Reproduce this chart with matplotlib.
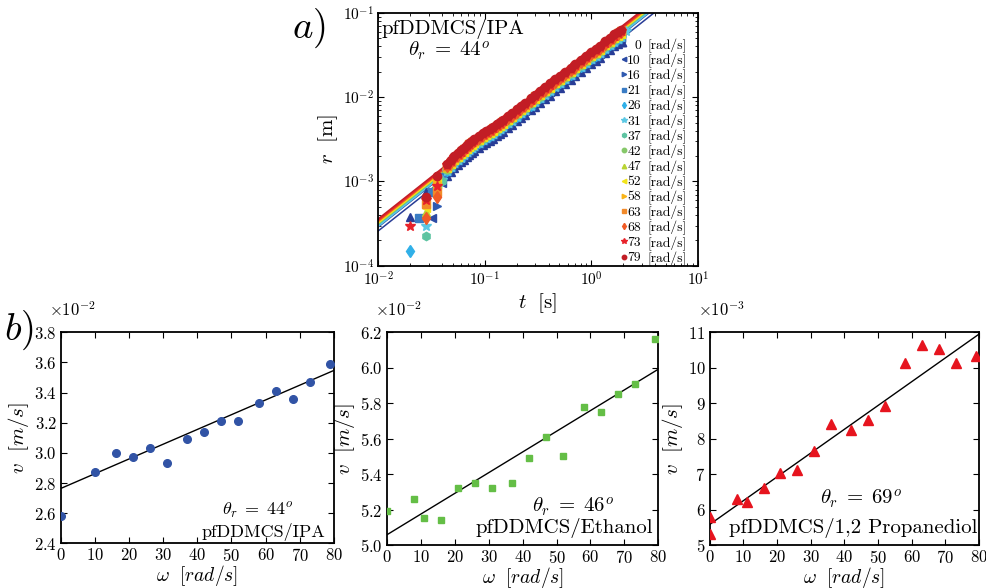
import numpy as np
import matplotlib
matplotlib.use("Agg")
import matplotlib.pyplot as plt
from matplotlib.ticker import ScalarFormatter, MultipleLocator, LogLocator, NullFormatter

plt.rcParams.update({
    "font.family": "serif",
    "font.serif": ["cmr10"],
    "mathtext.fontset": "cm",
    "axes.formatter.use_mathtext": True,
    "axes.unicode_minus": False,
    "xtick.direction": "in",
    "ytick.direction": "in",
    "xtick.top": True,
    "ytick.right": True,
    "axes.linewidth": 1.3,
    "xtick.major.size": 4,
    "ytick.major.size": 4,
    "xtick.minor.size": 2,
    "ytick.minor.size": 2,
})

# rotation speeds [rad/s] and spreading velocities of the IPA drop [m/s]
omega = [0, 10, 16, 21, 26, 31, 37, 42, 47, 52, 58, 63, 68, 73, 79]
v_ipa = [0.0258, 0.0287, 0.0300, 0.0297, 0.0303, 0.0293, 0.0309, 0.0314,
         0.0321, 0.0321, 0.0333, 0.0341, 0.0336, 0.0347, 0.0359]
fit_ipa = (0.02765, 9.76e-5)        # intercept [m/s], slope [m/rad]

omega_eth = [0, 8, 11, 16, 21, 26, 31, 37, 42, 47, 52, 58, 63, 68, 73, 79]
v_eth = [0.0519, 0.0526, 0.0515, 0.0514, 0.0532, 0.0535, 0.0532, 0.0535,
         0.0549, 0.0561, 0.0550, 0.0578, 0.0575, 0.0585, 0.0591, 0.0616]
fit_eth = (0.05058, 1.167e-4)

omega_prop = [0, 0, 8, 11, 16, 21, 26, 31, 36, 42, 47, 52, 58, 63, 68, 73, 79]
v_prop = [5.80e-3, 5.31e-3, 6.31e-3, 6.22e-3, 6.62e-3, 7.02e-3, 7.12e-3,
          7.64e-3, 8.42e-3, 8.23e-3, 8.52e-3, 8.93e-3, 10.14e-3, 10.64e-3,
          10.54e-3, 10.14e-3, 10.34e-3]
fit_prop = (5.58e-3, 6.71e-5)

# r(t) for IPA: frames along the main band, stored as r / (v t)
t_band = [0.044, 0.048, 0.052, 0.056, 0.060, 0.064, 0.068, 0.072, 0.076, 0.080,
          0.088, 0.096, 0.104, 0.112, 0.120, 0.130, 0.140, 0.150, 0.165, 0.180,
          0.200, 0.220, 0.240, 0.270, 0.300, 0.330, 0.370, 0.410, 0.460, 0.510,
          0.570, 0.640, 0.710, 0.800, 0.900, 1.00, 1.10, 1.20, 1.35, 1.50,
          1.65, 1.80, 1.90]
band_ratio = [1.02, 1.05, 1.08, 1.09, 1.09, 1.10, 1.12, 1.12, 1.12, 1.11,
              1.10, 1.09, 1.07, 1.05, 1.04, 1.03, 1.02, 1.01, 1.01, 1.00,
              1.00, 1.00, 1.00, 1.00, 1.00, 1.00, 0.99, 0.99, 0.99, 0.98,
              0.98, 0.97, 0.97, 0.97, 0.96, 0.96, 0.95, 0.95, 0.95, 0.94,
              0.94, 0.93, 0.93]

# first frames (and the odd late frame) that stay off the band
loose_t = [[0.020, 0.028, 0.036], [0.032, 0.040], [0.036], [0.024, 0.032, 0.040],
           [0.020, 0.036], [0.028, 0.040, 2.00, 2.13], [0.028, 0.040], [0.036],
           [0.028, 0.036], [0.028, 0.036], [0.036], [0.028, 0.036],
           [0.028, 0.036], [0.020, 0.028, 0.036], [0.028, 0.036]]
loose_r = [[3.75e-4, 7.6e-4, 1.02e-3], [3.7e-4, 9.6e-4], [5.1e-4],
           [3.7e-4, 7.5e-4, 1.12e-3], [1.48e-4, 9.5e-4],
           [2.95e-4, 1.05e-3, 5.8e-2, 6.16e-2], [2.25e-4, 1.02e-3], [8.5e-4],
           [4.4e-4, 9.6e-4], [4.83e-4, 1.03e-3], [9.8e-4], [5.4e-4, 7.6e-4],
           [3.7e-4, 6.6e-4], [2.95e-4, 6.06e-4, 8.96e-4], [6.5e-4, 1.16e-3]]

palette = ["#283c96", "#2b4ba4", "#2f5ab0", "#3a7cc4", "#30b0e8", "#5cc8e4",
           "#5ec4a2", "#86c86a", "#b9d434", "#f2e41a", "#f9b418", "#f28a2a",
           "#f05a26", "#e8222a", "#c21d25"]
markers = ["^", "<", ">", "s", "d", "*", "h", "o", "^", "<", ">", "s", "d", "*", "o"]

fig = plt.figure(figsize=(9.87, 5.88), dpi=100)

# ---- a) radius vs time, log-log
ax = fig.add_axes([0.383, 0.548, 0.324, 0.430])
t_line = np.array([1e-2, 1e1])
tb = np.array(t_band)
for i, w in enumerate(omega):
    r_band = v_ipa[i] * tb * np.array(band_ratio)
    t_all = np.concatenate([loose_t[i], tb])
    r_all = np.concatenate([loose_r[i], r_band])
    ms = 7.8 if markers[i] == "*" else 6.0
    ax.plot(t_all, r_all, ls="none", marker=markers[i], ms=ms, color=palette[i],
            mec=palette[i], zorder=3)
for i in range(len(omega)):
    ax.plot(t_line, v_ipa[i] * t_line, color=palette[i], lw=1.1, zorder=2)

ax.set_xscale("log")
ax.set_yscale("log")
ax.set_xlim(1e-2, 1e1)
ax.set_ylim(1e-4, 1e-1)
ax.xaxis.set_minor_locator(LogLocator(subs=np.arange(2, 10)))
ax.yaxis.set_minor_locator(LogLocator(subs=np.arange(2, 10)))
ax.xaxis.set_minor_formatter(NullFormatter())
ax.yaxis.set_minor_formatter(NullFormatter())
ax.tick_params(which="both", labelsize=11, pad=3)
ax.set_xlabel(r"$t\ \ [\mathrm{s}]$", fontsize=15, labelpad=2)
ax.set_ylabel(r"$r\ \ [\mathrm{m}]$", fontsize=15, labelpad=2)
ax.text(0.01, 0.917, "pfDDMCS/IPA", transform=ax.transAxes, fontsize=15,
        va="baseline")
ax.text(0.094, 0.825, r"$\theta_r\;=\;44^o$", transform=ax.transAxes, fontsize=15,
        va="baseline")

# legend rows: marker, right-aligned speed, unit
rows = np.linspace(0.877, 0.036, len(omega))
for i, w in enumerate(omega):
    ax.plot([0.769], [rows[i]], transform=ax.transAxes, ls="none", marker=markers[i],
            ms=4.2 if markers[i] == "*" else 3.2, color=palette[i], clip_on=False,
            zorder=4)
    ax.text(0.822, rows[i], "%d" % w, transform=ax.transAxes, fontsize=9.8,
            ha="right", va="center_baseline")
    ax.text(0.843, rows[i], "[rad/s]", transform=ax.transAxes, fontsize=9.8,
            ha="left", va="center_baseline")
fig.text(0.296, 0.952, r"$a)$", fontsize=28, va="center")


# ---- b) front velocity vs rotation speed
def velocity_panel(rect, w, v, fit, color, marker, ms, ylim, ystep, order,
                   theta, liquid, theta_pos, name_pos, fs):
    axb = fig.add_axes(rect)
    axb.plot(w, v, ls="none", marker=marker, ms=ms, color=color, zorder=3)
    wf = np.array([0, 80])
    axb.plot(wf, fit[0] + fit[1] * wf, color="k", lw=1.0, zorder=2)
    axb.set_xlim(0, 80)
    axb.set_ylim(*ylim)
    axb.xaxis.set_major_locator(MultipleLocator(10))
    axb.yaxis.set_major_locator(MultipleLocator(ystep))
    fmt = ScalarFormatter(useMathText=True, useOffset=False)
    fmt.set_powerlimits((order, order))
    axb.yaxis.set_major_formatter(fmt)
    axb.yaxis.get_offset_text().set_visible(False)
    axb.text(-0.045, 1.075, r"$\times10^{%d}$" % order, transform=axb.transAxes,
             fontsize=12, va="baseline")
    axb.tick_params(labelsize=12, pad=3)
    axb.set_xlabel(r"$\omega\ \ [rad/s]$", fontsize=14, labelpad=-1)
    axb.set_ylabel(r"$v\ \ [m/s]$", fontsize=15, labelpad=2)
    axb.text(theta_pos[0], theta_pos[1], r"$\theta_r\;=\;%d^o$" % theta,
             transform=axb.transAxes, fontsize=fs, ha="center", va="baseline")
    axb.text(name_pos[0], name_pos[1], liquid, transform=axb.transAxes,
             fontsize=fs, ha="right", va="baseline")
    return axb


velocity_panel([0.062, 0.076, 0.276, 0.359], omega, v_ipa, fit_ipa, "#3153a5", "o",
               5.5, (0.024, 0.038), 0.002, -2, 44, "pfDDMCS/IPA",
               (0.72, 0.133), (0.97, 0.03), 13)
velocity_panel([0.392, 0.073, 0.275, 0.362], omega_eth, v_eth, fit_eth, "#64be46", "s",
               5, (0.050, 0.062), 0.002, -2, 46, "pfDDMCS/Ethanol",
               (0.687, 0.15), (0.98, 0.056), 15)
velocity_panel([0.719, 0.073, 0.273, 0.362], omega_prop, v_prop, fit_prop, "#e6141e", "^",
               6.5, (0.005, 0.011), 0.001, -3, 69, "pfDDMCS/1,2 Propanediol",
               (0.561, 0.19), (0.995, 0.056), 15)
fig.text(0.004, 0.439, r"$b)$", fontsize=28, va="center")

fig.savefig("out.png", dpi=100)
